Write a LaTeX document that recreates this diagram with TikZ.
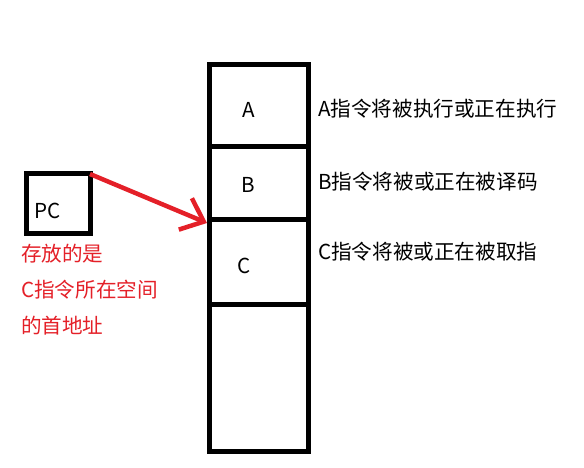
\documentclass[tikz,border=0pt]{standalone}
\usepackage{fontspec}
\setmainfont{Noto Sans CJK SC}
\usetikzlibrary{positioning,arrows.meta}
\definecolor{penred}{RGB}{228,32,40}
\begin{document}
\begin{tikzpicture}[
                            x=1pt, y=-1pt,
                            node distance=0pt,
                            >={Straight Barb[length=20pt,width=34pt]},
                            cell/.style={rectangle, draw, line width=5pt, outer sep=0pt, minimum width=99pt, inner sep=0pt},
                            txt/.style={font=\fontsize{20.6}{24}\selectfont, inner sep=0pt}
                        ]
                        \useasboundingbox (0,0) rectangle (584,468);
                        % Blocks
                        \node [cell, minimum height=82pt, anchor=north west] (cellA) at (209,65) {};
                        \node [cell, minimum height=72pt, below=of cellA] (cellB) {};
                        \node [cell, minimum height=85pt, below=of cellB] (cellC) {};
                        \node [cell, minimum height=147pt, below=of cellC] (cellD) {};
                        \node [txt] (letA) at ([xshift=-10pt,yshift=-4pt]cellA.center) {A};
                        \node [txt] (letB) at ([xshift=-10pt,yshift=-2pt]cellB.center) {B};
                        \node [txt] (letC) at ([xshift=-14pt,yshift=-4pt]cellC.center) {C};
                        \node [txt, anchor=west] (noteA) at (318,109) {A指令将被执行或正在执行};
                        \node [txt, anchor=west] (noteB) at (318,182) {B指令将被或正在被译码};
                        \node [txt, anchor=west] (noteC) at (318,252) {C指令将被或正在被取指};
                        \node [rectangle, draw, line width=5pt, outer sep=0pt, minimum width=64pt, minimum height=59pt, anchor=north west] (PC) at (26,174) {};
                        \node [txt, anchor=west] (pclabel) at (34,211) {PC};
                        \node [txt, text=penred, anchor=north west, align=left, font=\fontsize{20.6}{36}\selectfont] (pcnote) at (21,244) {存放的是\\C指令所在空间\\的首地址};
                        \coordinate (tip) at (207,223);

                        % Connections
                        \draw [->, penred, line width=4.5pt] (PC.north east) -- (tip);
                    \end{tikzpicture}
\end{document}
